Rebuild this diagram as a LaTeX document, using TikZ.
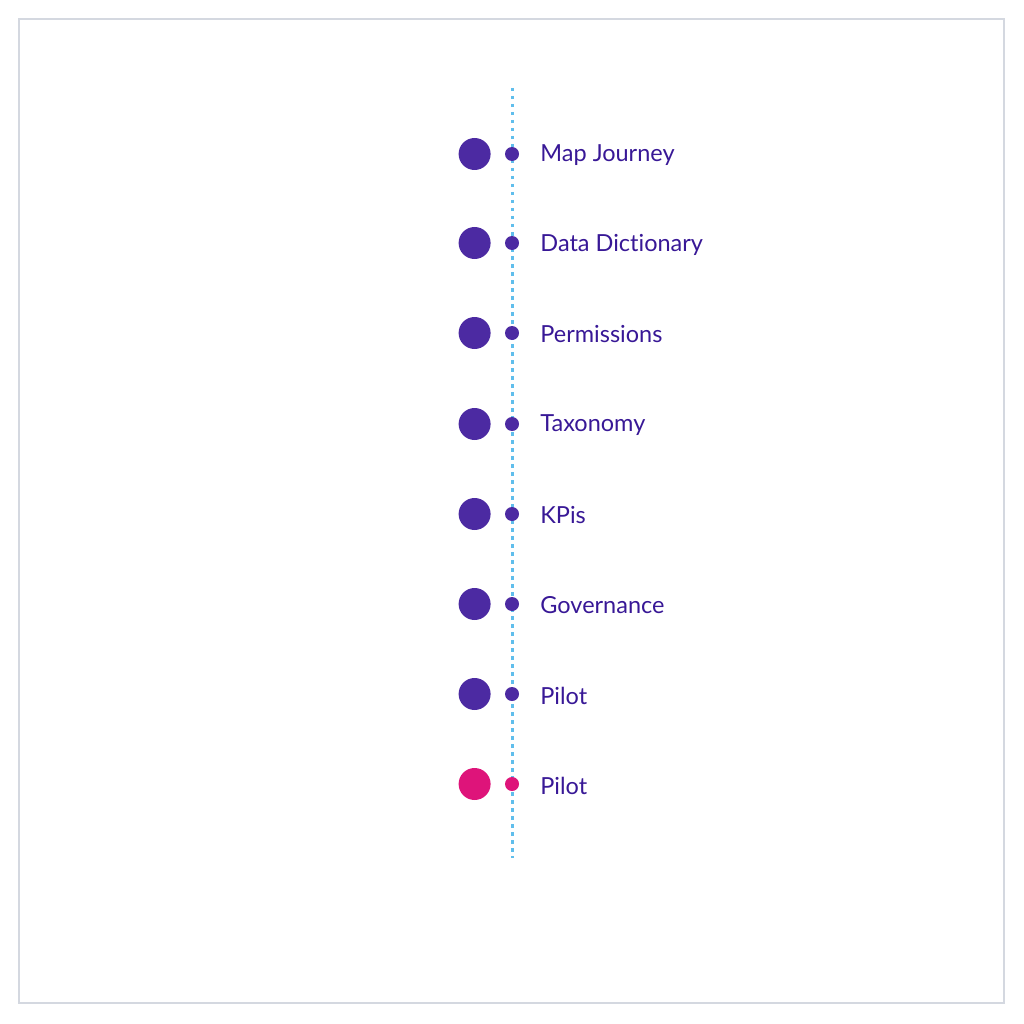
\documentclass[tikz,border=0pt]{standalone}
\usepackage{fontspec}
\setmainfont{Lato}[Ligatures=NoCommon]
\usetikzlibrary{positioning}
\definecolor{stepviolet}{RGB}{76, 42, 162}
\definecolor{textviolet}{RGB}{56, 24, 150}
\definecolor{pilotpink}{RGB}{222, 20, 122}
\definecolor{railblue}{RGB}{96, 190, 236}
\definecolor{framegray}{RGB}{212, 216, 224}

\begin{document}
\begin{tikzpicture}[x=1pt, y=-1pt, node distance=14pt and 21pt,
		bigdot/.style={draw=none, circle, minimum size=32pt, inner sep=0pt, fill=stepviolet},
		smalldot/.style={draw=none, circle, minimum size=14pt, inner sep=0pt, fill=stepviolet},
		steplabel/.style={draw=none, inner sep=0pt, anchor=west, yshift=-1.5pt, text=textviolet, font=\fontsize{23.5}{27}\selectfont},
		rail/.style={line width=3pt, color=railblue, dash pattern=on 3.5pt off 4.5pt},
		]
		
		\useasboundingbox (0,0) rectangle (1024,1024);
		\draw [framegray, line width=1.4pt] (19,19) rectangle (1004,1003);
		
		\coordinate (top) at (512,88);
		\coordinate (bottom) at (512,858);
		\draw [rail] (top) -- (bottom);
		
		\node[smalldot] (d1) at (512,154) {};
		\node[smalldot] (d2) at (512,243) {};
		\node[smalldot] (d3) at (512,333) {};
		\node[smalldot] (d4) at (512,424) {};
		\node[smalldot] (d5) at (512,514) {};
		\node[smalldot] (d6) at (512,604) {};
		\node[smalldot] (d7) at (512,694) {};
		\node[smalldot, fill=pilotpink] (d8) at (512,784) {};
		
		\node[bigdot, left=14pt of d1] (b1) {};
		\node[bigdot, left=14pt of d2] (b2) {};
		\node[bigdot, left=14pt of d3] (b3) {};
		\node[bigdot, left=14pt of d4] (b4) {};
		\node[bigdot, left=14pt of d5] (b5) {};
		\node[bigdot, left=14pt of d6] (b6) {};
		\node[bigdot, left=14pt of d7] (b7) {};
		\node[bigdot, left=14pt of d8, fill=pilotpink] (b8) {};
		
		\node[steplabel, right= of d1] (l1) {Map Journey};
		\node[steplabel, right= of d2] (l2) {Data Dictionary};
		\node[steplabel, right= of d3] (l3) {Permissions};
		\node[steplabel, right= of d4] (l4) {Taxonomy};
		\node[steplabel, right= of d5] (l5) {KPis};
		\node[steplabel, right= of d6] (l6) {Governance};
		\node[steplabel, right= of d7] (l7) {Pilot};
		\node[steplabel, right= of d8] (l8) {Pilot};
		
\end{tikzpicture}
\end{document}
